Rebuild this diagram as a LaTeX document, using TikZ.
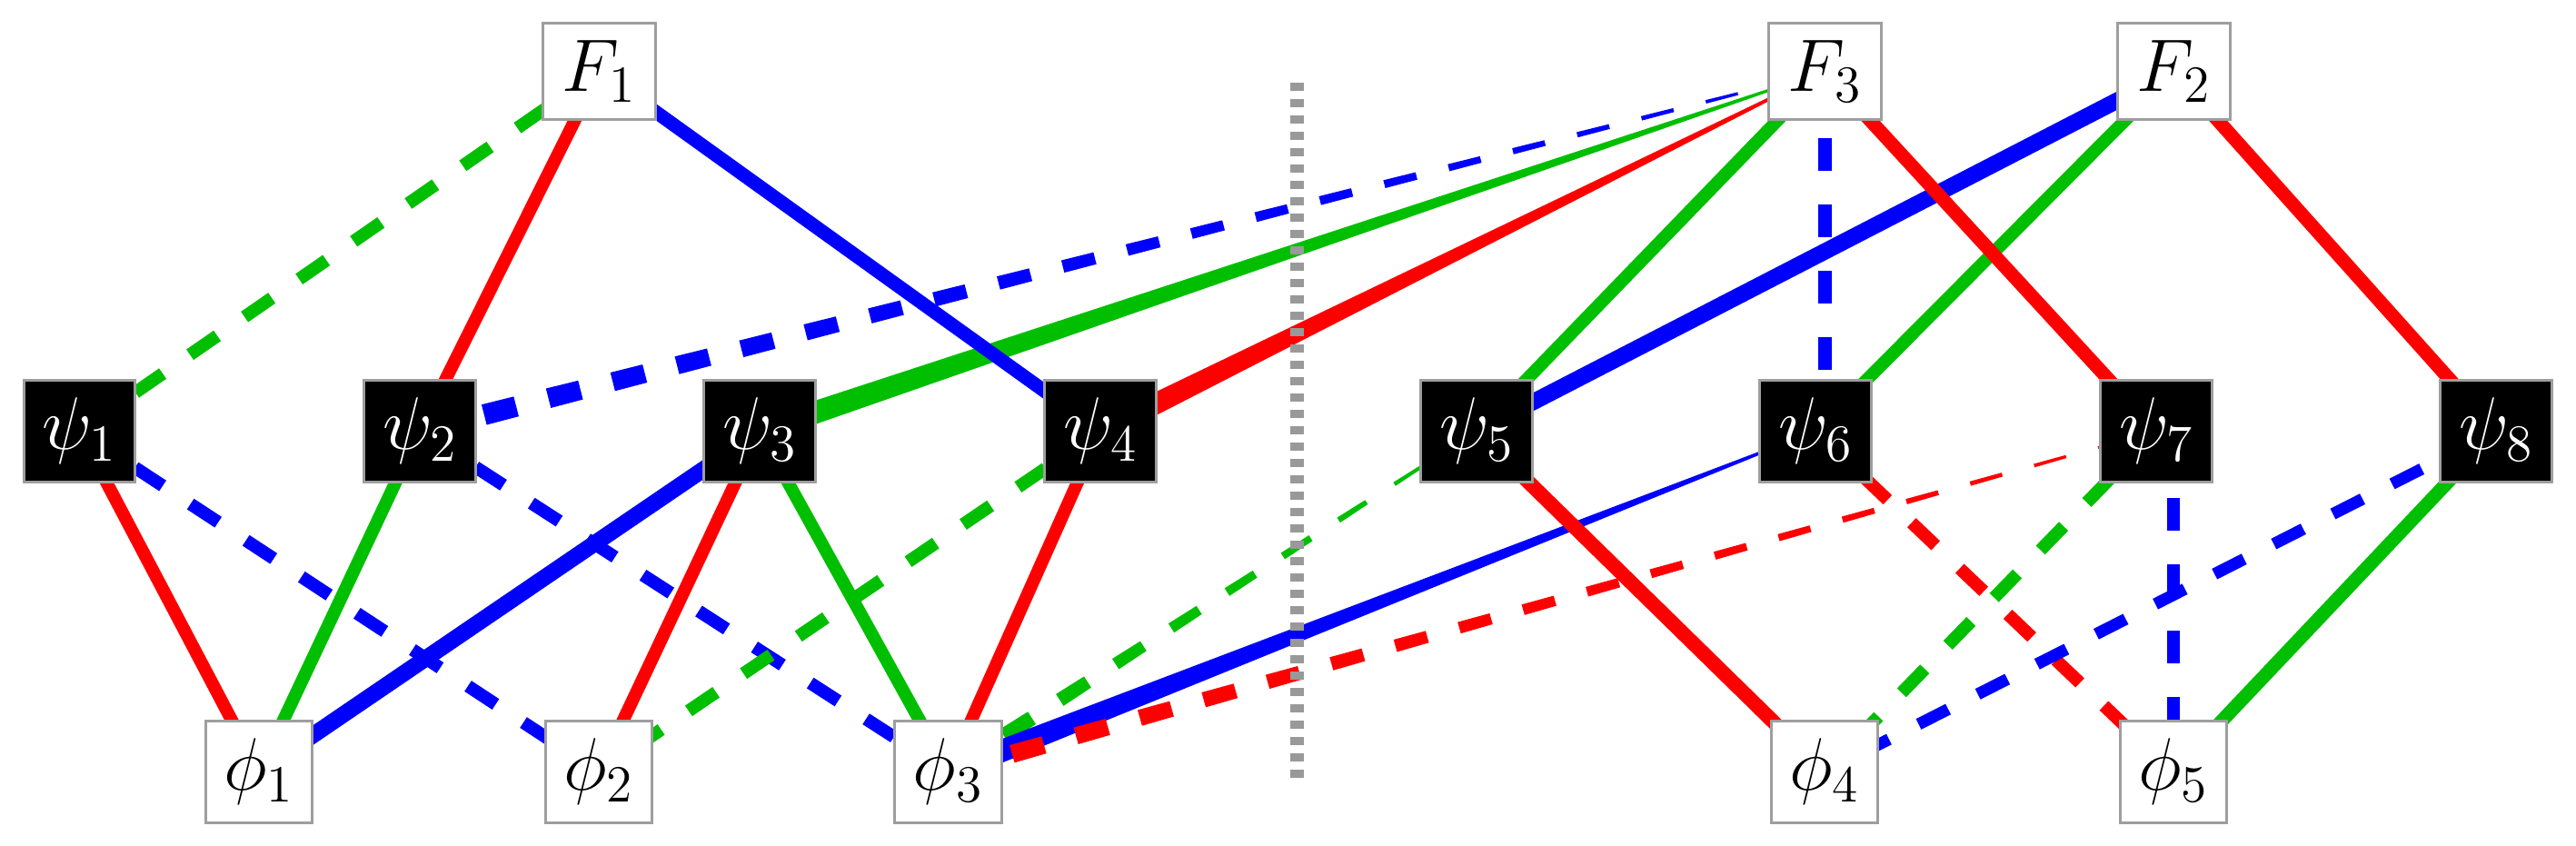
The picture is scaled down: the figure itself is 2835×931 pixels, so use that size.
\RequirePackage{fix-cm}
\documentclass[tikz,border=0pt]{standalone}
\usetikzlibrary{calc}
\pgfdeclarelayer{bg}
\pgfsetlayers{bg,main}
\definecolor{cg}{rgb}{0,0.75,0}
\definecolor{cb}{rgb}{0,0,1}
\definecolor{cr}{rgb}{1,0,0}
\definecolor{bordergray}{gray}{0.62}
\definecolor{dotgray}{gray}{0.6}
\makeatletter
\newcommand\seglength[2]{%
  \pgfpointdiff{\pgfpointanchor{#1}{center}}{\pgfpointanchor{#2}{center}}%
  \pgfmathsetmacro\seglen{veclen(\pgf@x,\pgf@y)}%
}
\makeatother
% #1 from node, #2 to node, #3 width(px) at from, #4 width(px) at to, #5 colour, #6 dash length px (0 = solid)
\newcommand\taperline[6]{%
  \seglength{#1}{#2}%
  \ifdim #6pt=0pt
    \pgfmathsetmacro\ha{#3*0.142264}%
    \pgfmathsetmacro\hb{#4*0.142264}%
    \fill[#5] ($(#1.center)!\ha pt!90:(#2.center)$) -- ($(#2.center)!\hb pt!-90:(#1.center)$)
      -- ($(#2.center)!\hb pt!90:(#1.center)$) -- ($(#1.center)!\ha pt!-90:(#2.center)$) -- cycle;
  \else
    \pgfmathsetmacro\dl{#6*0.284528}%
    \pgfmathtruncatemacro\nd{ceil(\seglen/(2*\dl))}%
    \foreach \i in {1,...,\nd}{%
      \pgfmathsetmacro\ta{(\i-1)*2*\dl/\seglen}%
      \pgfmathsetmacro\tb{min(((\i-1)*2+1)*\dl/\seglen,1)}%
      \pgfmathsetmacro\ha{(#3+(#4-#3)*\ta)*0.142264}%
      \pgfmathsetmacro\hb{(#3+(#4-#3)*\tb)*0.142264}%
      \coordinate (pa) at ($(#1.center)!\ta!(#2.center)$);
      \coordinate (pb) at ($(#1.center)!\tb!(#2.center)$);
      \fill[#5] ($(pa)!\ha pt!90:(#2.center)$) -- ($(pb)!\hb pt!-90:(#1.center)$)
        -- ($(pb)!\hb pt!90:(#1.center)$) -- ($(pa)!\ha pt!-90:(#2.center)$) -- cycle;
    }%
  \fi
}
\tikzset{
  lbl/.style={font=\fontsize{23.3}{28}\selectfont, inner sep=0pt, line width=0.03cm, draw=bordergray},
  fbox/.style={lbl, fill=white, minimum width=1.23cm, minimum height=1.05cm},
  psibox/.style={lbl, fill=black, text=white, minimum width=1.22cm, minimum height=1.11cm},
  phibox/.style={lbl, fill=white, minimum width=1.17cm, minimum height=1.11cm},
  edge/.style={line width=#1*0.01cm},
  dsh/.style={dash pattern=on 0.365cm off 0.365cm},
  divider/.style={dotgray, line width=0.15cm, dash pattern=on 0.09cm off 0.09cm}
}
\begin{document}
\begin{tikzpicture}[x=0.01cm, y=-0.01cm]
\useasboundingbox (0,0) rectangle (2835,931);
% nodes
\node[fbox] (F1) at (659.5,78.5) {$F_1$};
\node[fbox] (F3) at (2008.5,78.5) {$F_3$};
\node[fbox] (F2) at (2392.5,78.5) {$F_2$};
\node[psibox] (p1) at (87.5,474.5) {$\psi_1$};
\node[psibox] (p2) at (462,474.5) {$\psi_2$};
\node[psibox] (p3) at (836,474.5) {$\psi_3$};
\node[psibox] (p4) at (1211,474.5) {$\psi_4$};
\node[psibox] (p5) at (1625,474.5) {$\psi_5$};
\node[psibox] (p6) at (1998,474.5) {$\psi_6$};
\node[psibox] (p7) at (2373,474.5) {$\psi_7$};
\node[psibox] (p8) at (2747,474.5) {$\psi_8$};
\node[phibox] (f1) at (285,849.5) {$\phi_1$};
\node[phibox] (f2) at (659,849.5) {$\phi_2$};
\node[phibox] (f3) at (1043.5,849.5) {$\phi_3$};
\node[phibox] (f4) at (2008,849.5) {$\phi_4$};
\node[phibox] (f5) at (2392,849.5) {$\phi_5$};
% divider
\coordinate (dtop) at (1427,91);
\coordinate (dbot) at (1427,862);
\draw[divider] (dtop) -- (dbot);
\begin{pgfonlayer}{bg}
% tapered connectors
\taperline{p2}{F3}{24}{2}{cb}{36.5}
\taperline{p3}{F3}{26}{2}{cg}{0}
\taperline{p4}{F3}{25}{2}{cr}{0}
\taperline{f3}{p5}{19}{2}{cg}{36.5}
\taperline{f3}{p6}{26}{2}{cb}{0}
\taperline{f3}{p7}{21}{2}{cr}{36.5}
% uniform solid connectors
\draw[cr, edge=14] (F1.center) -- (p2.center);
\draw[cb, edge=15] (F1.center) -- (p4.center);
\draw[cr, edge=14] (p1.center) -- (f1.center);
\draw[cg, edge=14] (p2.center) -- (f1.center);
\draw[cb, edge=18] (p3.center) -- (f1.center);
\draw[cr, edge=14] (p3.center) -- (f2.center);
\draw[cg, edge=14] (p3.center) -- (f3.center);
\draw[cr, edge=14] (p4.center) -- (f3.center);
\draw[cg, edge=14] (p5.center) -- (F3.center);
\draw[cb, edge=18] (p5.center) -- (F2.center);
\draw[cr, edge=16] (p5.center) -- (f4.center);
\draw[cg, edge=14] (p6.center) -- (F2.center);
\draw[cr, edge=15] (p7.center) -- (F3.center);
\draw[cr, edge=15] (p8.center) -- (F2.center);
\draw[cg, edge=15] (p8.center) -- (f5.center);
% uniform dashed connectors
\draw[cg, edge=14, dsh] (F1.center) -- (p1.center);
\draw[cb, edge=14, dsh] (p1.center) -- (f2.center);
\draw[cb, edge=14, dsh] (p2.center) -- (f3.center);
\draw[cg, edge=14, dsh] (p4.center) -- (f2.center);
\draw[cb, edge=15, dsh] (F3.center) -- (F3.center |- p6.center);
\draw[cr, edge=14, dsh] (p6.center) -- (f5.center);
\draw[cg, edge=14, dsh] (p7.center) -- (f4.center);
\draw[cb, edge=14, dsh] (f5.center |- p7.center) -- (f5.center);
\draw[cb, edge=13, dsh, dash phase=0.3cm] (f4.center) -- (p8.center);
\end{pgfonlayer}
\end{tikzpicture}
\end{document}
